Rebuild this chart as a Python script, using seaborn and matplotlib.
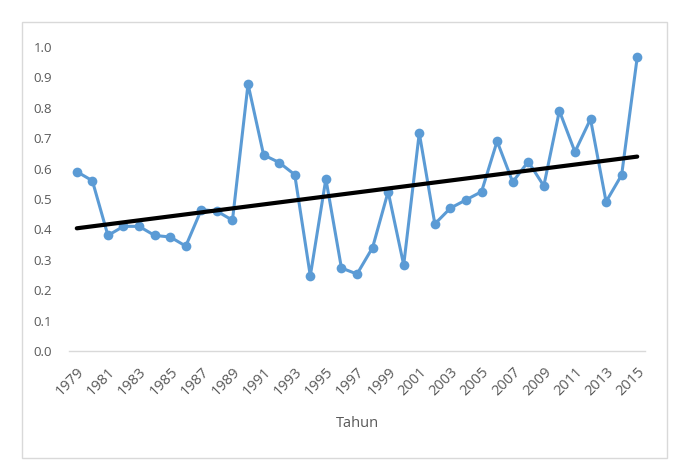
import numpy as np
import matplotlib.pyplot as plt
import seaborn as sns
import pandas as pd
from matplotlib.patches import Rectangle

years = list(range(1979, 2016))
values = [0.59, 0.56, 0.38, 0.41, 0.41, 0.38, 0.375, 0.345, 0.465, 0.46,
          0.43, 0.878, 0.645, 0.62, 0.58, 0.247, 0.566, 0.273, 0.253, 0.34,
          0.524, 0.283, 0.717, 0.418, 0.47, 0.497, 0.524, 0.69, 0.556, 0.623,
          0.543, 0.79, 0.655, 0.763, 0.491, 0.579, 0.966]
ytick_vals = [0.0, 0.1, 0.2, 0.3, 0.4, 0.5, 0.6, 0.7, 0.8, 0.9, 1.0]

df = pd.DataFrame({"Tahun": years, "nilai": values})
slope, icpt = np.polyfit(df["Tahun"], df["nilai"], 1)
df["trend"] = icpt + slope * df["Tahun"]

sns.set_style("white")
plt.rcParams['font.family'] = ['Open Sans', 'DejaVu Sans']
grey = "#595959"

fig = plt.figure(figsize=(6.88, 4.73), dpi=100)
ax = fig.add_axes([0.1003, 0.258, 0.8372, 0.6426])

sns.lineplot(data=df, x="Tahun", y="nilai", ax=ax, color="#5B9BD5",
             linewidth=2.2, marker="o", markersize=7, markeredgewidth=0)
sns.lineplot(data=df, x="Tahun", y="trend", ax=ax, color="black", linewidth=3)

ax.set_xlim(1978.5, 2015.5)
ax.set_ylim(0, 1.0)
ax.set_yticks(ytick_vals)
ax.set_yticklabels([f"{v:.1f}" for v in ytick_vals], color=grey, fontsize=9.5)
ax.set_xticks(years[::2])
ax.set_xticklabels([str(y) for y in years[::2]], rotation=45, ha="right",
                   rotation_mode="anchor", color=grey, fontsize=10.5)
ax.tick_params(axis="x", length=0, pad=10)
ax.tick_params(axis="y", length=0, pad=12)
ax.set_ylabel("")
ax.set_xlabel("Tahun", color=grey, fontsize=10.5, labelpad=12)
for s in ["left", "right", "top"]:
    ax.spines[s].set_visible(False)
ax.spines["bottom"].set_color("#D9D9D9")
ax.spines["bottom"].set_linewidth(1)

fig.add_artist(Rectangle((22 / 688, 1 - 458 / 473), 645 / 688, 436 / 473,
                         transform=fig.transFigure, fill=False,
                         edgecolor="#D9D9D9", linewidth=1))

fig.savefig("out.png", dpi=100)
